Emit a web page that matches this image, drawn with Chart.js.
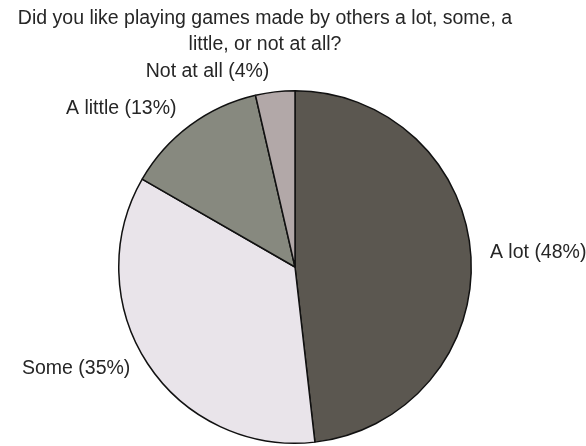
<!DOCTYPE html>
<html>
<head>
<meta charset="utf-8">
<script src="https://cdn.jsdelivr.net/npm/chart.js@4/dist/chart.umd.min.js"></script>
<style>
    html, body { margin: 0; padding: 0; background: #fff; }
    #wrap { width: 586px; height: 446px; }
</style>
</head>
<body>
<div id="wrap"><canvas id="output" width="586" height="446"></canvas></div>
<script>
const titleLines = ["Did you like playing games made by others a lot, some, a", "little, or not at all?"];
const answers = ["A lot", "Some", "A little", "Not at all"];
const shares = [48.2, 35.1, 13.1, 3.6];
const sliceColors = ["#5b5750", "#e9e4ea", "#87897f", "#b2a8a8"];

const FONT = "19.5px 'Liberation Sans', Arial, sans-serif";
const TEXT = "#262626";

// title + outside slice labels, drawn straight on the canvas
const labelPlugin = {
    id: "labels",
    afterDraw(chart) {
        const ctx = chart.ctx;
        ctx.save();
        ctx.font = FONT;
        ctx.fillStyle = TEXT;
        ctx.textAlign = "center";
        ctx.textBaseline = "alphabetic";
        ctx.fillText(titleLines[0], 265, 24);
        ctx.fillText(titleLines[1], 265, 50);

        const total = shares.reduce((a, b) => a + b, 0);
        const meta = chart.getDatasetMeta(0);
        ctx.textBaseline = "middle";
        meta.data.forEach((arc, i) => {
            const p = arc.getProps(["x", "y", "startAngle", "endAngle", "outerRadius"], true);
            const mid = (p.startAngle + p.endAngle) / 2;
            const r = p.outerRadius + 16;
            let x = p.x + Math.cos(mid) * r;
            const y = p.y + Math.sin(mid) * r - 4;
            const right = Math.cos(mid) >= 0;
            ctx.textAlign = right ? "left" : "right";
            x += right ? 3 : -4;
            const pct = Math.round(shares[i] / total * 100);
            ctx.fillText(`${answers[i]} (${pct}%)`, x, y);
        });
        ctx.restore();
    }
};

const context = document.getElementById("output");
const chart = new Chart(context, {
    type: "pie",
    data: {
        labels: answers,
        datasets: [{
            data: shares,
            backgroundColor: sliceColors,
            borderColor: "#111",
            borderWidth: 1.5
        }]
    },
    options: {
        responsive: false,
        animation: false,
        layout: { padding: { left: 118, right: 114, top: 90, bottom: 2 } },
        plugins: {
            legend: { display: false },
            title: { display: false },
            tooltip: { enabled: false }
        }
    },
    plugins: [labelPlugin]
});
</script>
</body>
</html>
